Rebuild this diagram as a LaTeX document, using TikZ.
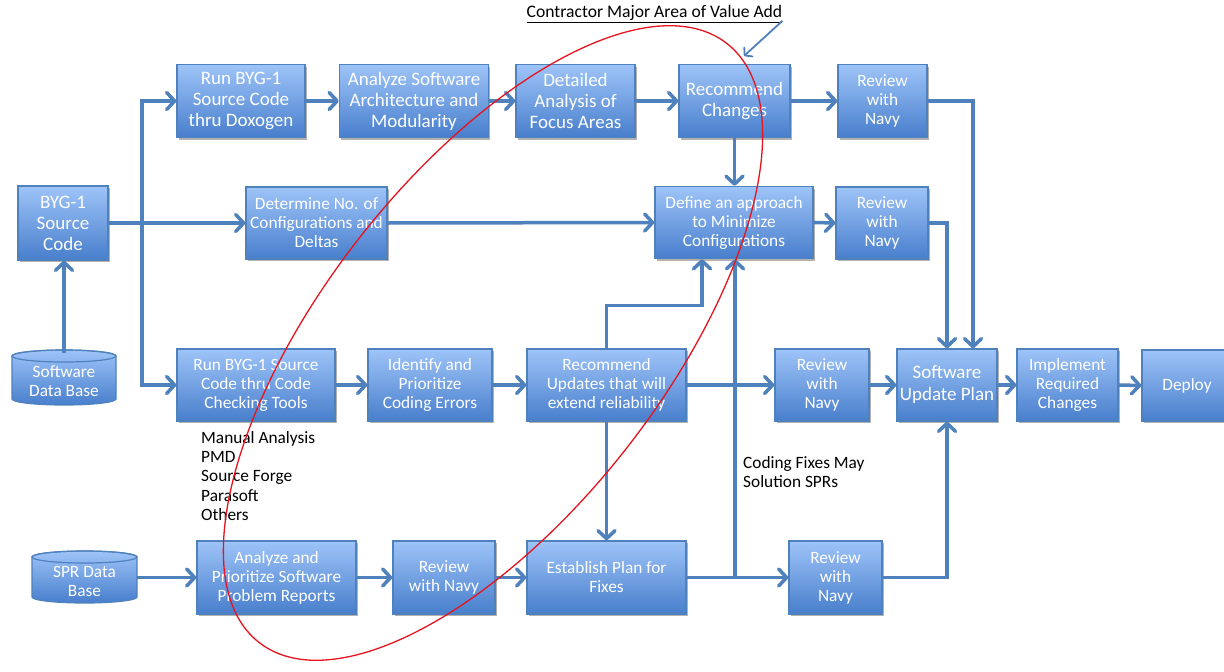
\documentclass[tikz,border=0pt]{standalone}
\usepackage{fontspec}
\setmainfont{Carlito}
\usetikzlibrary{arrows.meta,shadows,calc}
\definecolor{lnblue}{RGB}{79,129,189}
\definecolor{boxtop}{RGB}{158,196,248}
\definecolor{boxbot}{RGB}{72,126,204}
\definecolor{boxline}{RGB}{79,129,189}
\definecolor{ovalred}{RGB}{230,20,30}
\begin{document}
\begin{tikzpicture}[x=1pt,y=-1pt,
 box/.style={draw=boxline, line width=1.2pt, top color=boxtop, bottom color=boxbot, text=white, align=center, inner sep=0pt, font=\fontsize{17.3}{19}\selectfont, drop shadow={shadow xshift=1.5pt,shadow yshift=-2pt,opacity=0.3,fill=black}},
 big/.style={font=\fontsize{19}{21}\selectfont},
 conn/.style={draw=lnblue, line width=3.5pt, -{Straight Barb[length=8pt,width=17pt,round]}},
 note/.style={text=black, align=left, font=\fontsize{17.3}{19.3}\selectfont, inner sep=0pt},
 cyltext/.style={text=white, align=center, font=\fontsize{17.3}{19}\selectfont, inner sep=0pt}
]
\fill[white] (0,0) rectangle (1224,672);
\useasboundingbox (0,0) rectangle (1224,672);

% cylinders
\shade[top color=boxtop,bottom color=boxbot,draw=boxline,line width=1.2pt]
  (12,356) -- (12,399) arc[start angle=180,end angle=360,x radius=52pt,y radius=6pt]
  -- (116,356) arc[start angle=0,end angle=180,x radius=52pt,y radius=6pt] -- cycle;
\draw[boxline,line width=1.2pt] (64,356) ellipse [x radius=52pt, y radius=6pt];
\node[cyltext,minimum width=104,minimum height=55] (swdb) at (64,381) {Software\\Data Base};

\shade[top color=boxtop,bottom color=boxbot,draw=boxline,line width=1.2pt]
  (32,557) -- (32,597) arc[start angle=180,end angle=360,x radius=52.5pt,y radius=6pt]
  -- (137,557) arc[start angle=0,end angle=180,x radius=52.5pt,y radius=6pt] -- cycle;
\draw[boxline,line width=1.2pt] (84.5,557) ellipse [x radius=52.5pt, y radius=6pt];
\node[cyltext,minimum width=105,minimum height=52] (sprdb) at (84.5,581) {SPR Data\\Base};

% boxes
\node[box,big,minimum width=90,minimum height=74] (byg) at (63,223) {BYG-1\\Source\\Code};
\node[box,big,minimum width=128,minimum height=73] (dox) at (241,101) {Run BYG-1\\Source Code\\thru Doxogen};
\node[box,big,minimum width=149,minimum height=73] (arch) at (414,101) {Analyze Software\\Architecture and\\Modularity};
\node[box,big,minimum width=119,minimum height=73] (detail) at (575.5,101) {Detailed\\Analysis of\\Focus Areas};
\node[box,big,minimum width=111,minimum height=73] (recch) at (734.5,101) {Recommend\\Changes};
\node[box,minimum width=89,minimum height=73] (rev1) at (882.5,101) {Review\\with\\Navy};
\node[box,minimum width=141,minimum height=72] (det) at (316.5,223) {Determine No. of\\Configurations and\\Deltas};
\node[box,minimum width=158,minimum height=72] (def) at (734,222.5) {Define an approach\\to Minimize\\Configurations};
\node[box,minimum width=92,minimum height=72] (rev2) at (882,223) {Review\\with\\Navy};
\node[box,minimum width=158,minimum height=72] (chk) at (256,385) {Run BYG-1 Source\\Code thru Code\\Checking Tools};
\node[box,minimum width=124,minimum height=72] (ident) at (430,385) {Identify and\\Prioritize\\Coding Errors};
\node[box,minimum width=159,minimum height=72] (recup) at (606.5,385) {Recommend\\Updates that will\\extend reliability};
\node[box,minimum width=94,minimum height=72] (rev3) at (822,385) {Review\\with\\Navy};
\node[box,font=\fontsize{19}{22}\selectfont,minimum width=100,minimum height=72] (sup) at (947,385) {Software\\Update Plan};
\node[box,minimum width=101,minimum height=72] (impl) at (1067.5,385) {Implement\\Required\\Changes};
\node[box,minimum width=90,minimum height=71] (deploy) at (1187,385.5) {Deploy};
\node[box,minimum width=159,minimum height=73] (anspr) at (276.5,577.5) {Analyze and\\Prioritize Software\\Problem Reports};
\node[box,minimum width=102,minimum height=73] (rev4) at (444,577.5) {Review\\with Navy};
\node[box,minimum width=159,minimum height=73] (estab) at (606.5,577.5) {Establish Plan for\\Fixes};
\node[box,minimum width=93,minimum height=73] (rev5) at (835.5,577.5) {Review\\with\\Navy};

% connectors
\coordinate (tr) at (142,223);
\draw[conn] (swdb.north) -- (swdb.north |- byg.south);
\draw[conn] (byg.east) -- (det.west);
\draw[conn] (tr) |- (dox.west);
\draw[conn] (tr) |- (chk.west);
\draw[conn] (dox.east) -- (arch.west);
\draw[conn] (arch.east) -- (detail.west);
\draw[conn] (detail.east) -- (recch.west);
\draw[conn] (recch.east) -- (rev1.west);
\draw[conn] (rev1.east) -| ([xshift=26pt]sup.north);
\draw[conn] (recch.south) -- (recch.south |- def.north);
\draw[conn] (det.east) -- (def.west);
\draw[conn] (def.east) -- (rev2.west);
\draw[conn] (rev2.east) -| (sup.north);
\draw[conn] (chk.east) -- (ident.west);
\draw[conn] (ident.east) -- (recup.west);
\draw[conn] (recup.north) -- ++(0,-43) -| ([xshift=-32pt]def.south);
\draw[conn] (recup.east) -- (rev3.west);
\draw[conn] (rev3.east) -- (sup.west);
\draw[conn] (sup.east) -- (impl.west);
\draw[conn] (impl.east) -- (deploy.west);
\draw[conn] (recup.south) -- (estab.north);
\draw[conn] (sprdb.east |- anspr.west) -- (anspr.west);
\draw[conn] (anspr.east) -- (rev4.west);
\draw[conn] (rev4.east) -- (estab.west);
\draw[conn] (estab.east) -- (rev5.west);
\draw[conn] (estab.east) -| ([xshift=1pt]def.south);
\draw[conn] (rev5.east) -| (sup.south);

% notes
\node[note, anchor=north west] (tools) at (201,431) {Manual Analysis\\PMD\\Source Forge\\Parasoft\\Others};
\node[note, anchor=north west] (fix) at (743,456) {Coding Fixes May\\Solution SPRs};
\node[text=black, font=\fontsize{17.6}{19}\selectfont, inner sep=0pt] (cma) at (654.5,14) {\underline{Contractor Major Area of Value Add}};
\coordinate (ae) at (744,56);
\draw[lnblue, line width=1.8pt, -{Straight Barb[length=5pt,width=12pt,round]}] ([yshift=2pt]cma.south east) -- (ae);

% red oval
\draw[ovalred, line width=1.3pt, rotate around={52:(493,343)}] (493,343) ellipse [x radius=380pt, y radius=170pt];
\end{tikzpicture}
\end{document}
